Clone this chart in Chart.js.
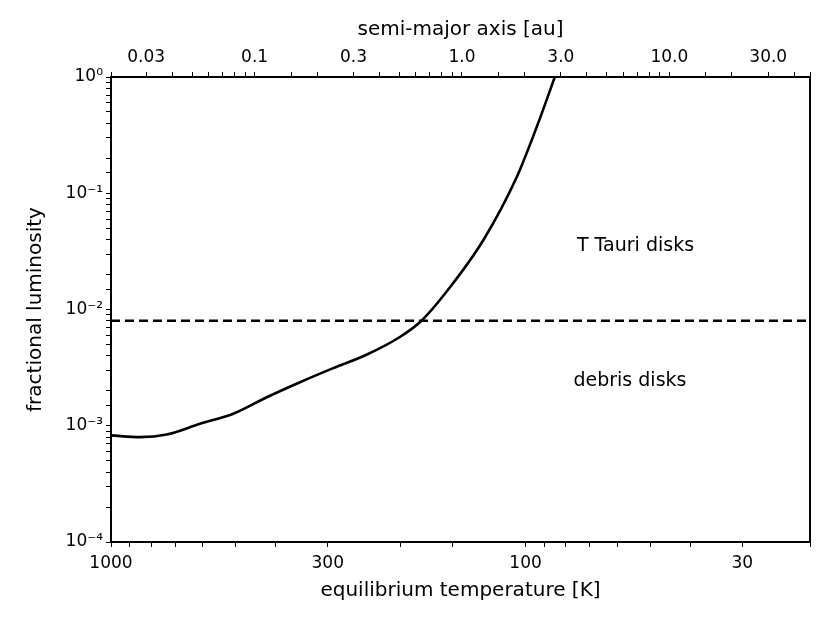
<!DOCTYPE html>
<html>
<head>
<meta charset="utf-8">
<script src="https://cdn.jsdelivr.net/npm/chart.js@4/dist/chart.umd.min.js"></script>
<style>
  html, body { margin: 0; padding: 0; background: #fff; }
  #wrap { width: 830px; height: 623px; }
</style>
</head>
<body>
<div id="wrap"><canvas id="c"></canvas></div>
<script>
// equilibrium temperature [K] and fractional luminosity
const temps = [1000, 851, 734, 610, 507, 421, 350, 291, 242, 201, 178, 152, 126.5, 105, 94, 85];
const lums = [8.26e-4, 7.98e-4, 8.4e-4, 1.04e-3, 1.27e-3, 1.76e-3, 2.37e-3, 3.13e-3, 4.08e-3, 5.8e-3, 8.05e-3, 0.0156, 0.0394, 0.138, 0.371, 1.0];

const tempRange = [1000, 20.6];
const auRange = [0.0203, 47.7];
const threshold = 0.008;

const tempLabels = [1000, 300, 100, 30];
const auLabels = [0.03, 0.1, 0.3, 1, 3, 10, 30];
const lumLabels = [1, 0.1, 0.01, 0.001, 0.0001];

// region annotations: [text, T, L]
const regionTexts = [
  ['T Tauri disks', 54.3, 0.035],
  ['debris disks', 56, 0.0024]
];

const FONT = "'DejaVu Sans', sans-serif";
const sup = { '-': '⁻', '0': '⁰', '1': '¹', '2': '²', '3': '³', '4': '⁴' };
const near = (v, list) => list.some(l => Math.abs(v / l - 1) < 1e-6);

const textPlugin = {
  id: 'regionText',
  afterDatasetsDraw(chart) {
    const { ctx, chartArea: a, scales } = chart;
    ctx.save();
    ctx.font = `19px ${FONT}`;
    ctx.fillStyle = '#000';
    ctx.textAlign = 'center';
    ctx.textBaseline = 'middle';
    regionTexts.forEach(([t, x, y]) => {
      ctx.fillText(t, scales.x.getPixelForValue(x), scales.y.getPixelForValue(y));
    });
    ctx.strokeStyle = '#000';
    ctx.lineWidth = 2;
    ctx.strokeRect(a.left, a.top, a.right - a.left, a.bottom - a.top);
    ctx.restore();
  }
};

new Chart(document.getElementById('c'), {
  type: 'line',
  data: {
    datasets: [
      {
        data: temps.map((t, i) => ({ x: t, y: lums[i] })),
        borderColor: '#000', borderWidth: 2.6, pointRadius: 0, cubicInterpolationMode: 'monotone', fill: false
      },
      {
        data: tempRange.map(t => ({ x: t, y: threshold })),
        borderColor: '#000', borderWidth: 2.3, borderDash: [9, 5], pointRadius: 0, fill: false
      }
    ]
  },
  options: {
    responsive: true,
    maintainAspectRatio: false,
    animation: false,
    layout: { padding: { right: 20 } },
    plugins: { legend: { display: false }, tooltip: { enabled: false } },
    scales: {
      x: {
        type: 'logarithmic', reverse: true, min: tempRange[1], max: tempRange[0],
        afterFit(s) { s.height = 81; },
        grid: { drawOnChartArea: false, color: '#000', tickLength: 5, lineWidth: 1 },
        border: { color: '#000', width: 2 },
        ticks: {
          autoSkip: false, maxRotation: 0, padding: 6, color: '#000', font: { family: FONT, size: 17 },
          callback: v => near(v, tempLabels) ? String(Math.round(v)) : ''
        },
        title: { display: true, text: 'equilibrium temperature [K]', color: '#000',
          font: { family: FONT, size: 20 }, padding: { top: 0, bottom: 20 } }
      },
      top: {
        type: 'logarithmic', position: 'top', min: auRange[0], max: auRange[1],
        afterFit(s) { s.height = 77; },
        grid: { drawOnChartArea: false, color: '#000', tickLength: 5, lineWidth: 1 },
        border: { color: '#000', width: 2 },
        ticks: {
          autoSkip: false, maxRotation: 0, padding: 4, color: '#000', font: { family: FONT, size: 17 },
          callback: v => near(v, auLabels) ? (v < 0.1 ? v.toFixed(2) : v.toFixed(1)) : ''
        },
        title: { display: true, text: 'semi-major axis [au]', color: '#000',
          font: { family: FONT, size: 20 }, padding: { top: 18, bottom: 0 } }
      },
      y: {
        type: 'logarithmic', min: 1e-4, max: 1,
        afterFit(s) { s.width = 111; },
        grid: { drawOnChartArea: false, color: '#000', tickLength: 5, lineWidth: 1 },
        border: { color: '#000', width: 2 },
        ticks: {
          autoSkip: false, color: '#000', font: { family: FONT, size: 17 },
          callback: v => near(v, lumLabels)
            ? '10' + String(Math.round(Math.log10(v))).split('').map(c => sup[c]).join('') : ''
        },
        title: { display: true, text: 'fractional luminosity', color: '#000',
          font: { family: FONT, size: 20 }, padding: { top: 24, bottom: 0 } }
      }
    }
  },
  plugins: [textPlugin]
});
</script>
</body>
</html>
